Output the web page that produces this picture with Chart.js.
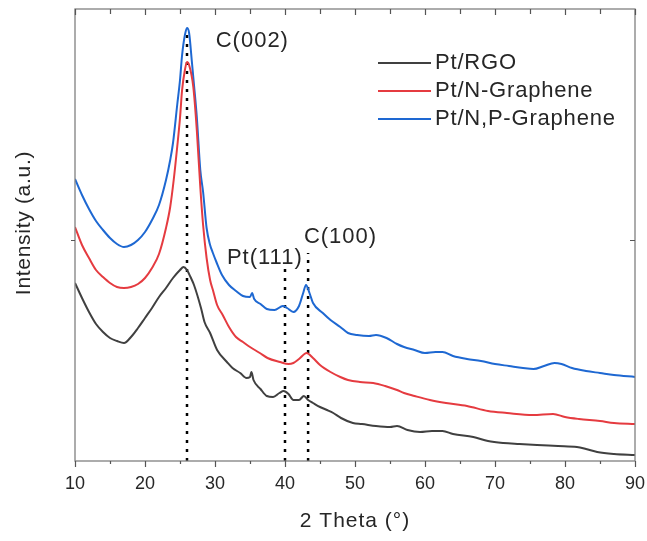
<!DOCTYPE html>
<html>
<head>
<meta charset="utf-8">
<script src="https://cdn.jsdelivr.net/npm/chart.js@4.4.1/dist/chart.umd.min.js"></script>
<style>
  html, body { margin: 0; padding: 0; background: #fff; }
  #wrap { width: 647px; height: 541px; }
</style>
</head>
<body>
<div id="wrap"><canvas id="xrdChart" width="647" height="541"></canvas></div>
<script>
// ---- data (intensity in arbitrary units) ----
const seriesLabels = ['Pt/RGO', 'Pt/N-Graphene', 'Pt/N,P-Graphene'];

const thetaRGO = [10, 11, 12, 13, 14, 15, 16, 17, 18, 19, 20, 21, 22, 23, 24, 25, 25.5, 26, 26.5, 27, 28, 28.5, 29.3, 30.3, 31.7, 32.5, 33.6, 34.5, 35, 35.2, 35.5, 36.5, 37.4, 38.3, 39.2, 39.8, 40.5, 41.2, 42, 42.7, 43.3, 44, 45, 46, 46.9, 48, 49.7, 51, 53, 55, 56, 57.5, 59.3, 61, 62.5, 64, 66.9, 69, 71.2, 73.5, 76, 79, 81.7, 83, 84.6, 87, 90];
const intRGO = [178, 163, 149, 137, 129, 123, 120, 118, 124, 133, 143, 153, 164, 173, 183, 191, 194, 191, 184, 176, 153, 139, 128, 111, 99, 93, 88, 83, 84, 89, 81, 72, 65, 64, 68, 70, 67, 61, 61, 65, 61, 58, 54, 51, 48, 43, 38, 37, 35, 34, 35, 31, 29, 30, 30, 27, 24, 20, 18, 17, 16, 15, 14, 12, 9, 7, 6];

const thetaN = [10, 11, 12, 13, 14, 15, 16, 17, 18, 19, 20, 21, 22, 23, 23.6, 24.1, 24.6, 25, 25.3, 25.7, 26, 26.3, 26.9, 27.4, 27.9, 28.3, 28.8, 29.3, 29.7, 30.3, 31.1, 32, 33, 34, 35, 36.4, 37.5, 39.3, 40.5, 41.2, 42, 43.1, 44, 45, 46.5, 47.9, 49, 50.7, 52.6, 54.3, 56, 57, 58.5, 60.7, 63, 66, 69, 71.7, 75.4, 78.3, 80, 82, 85, 87, 90];
const intN = [234, 216, 203, 191, 184, 178, 174, 173, 174, 177, 183, 193, 207, 233, 254, 281, 314, 343, 371, 391, 399, 396, 374, 331, 274, 236, 203, 181, 171, 156, 146, 134, 124, 119, 114, 108, 103, 99, 97, 98, 102, 108, 103, 96, 89, 84, 81, 79, 78, 75, 71, 68, 65, 61, 58, 55, 50, 48, 46, 47, 44, 42, 40, 38, 37];

const thetaNP = [10, 11, 12, 13, 14, 15, 16, 17, 18, 19, 20, 21, 22, 23, 23.6, 24, 24.6, 25, 25.3, 25.7, 26, 26.3, 26.7, 27, 27.4, 27.9, 28.3, 28.8, 29.3, 29.7, 30.2, 31, 32, 33, 34, 35, 35.3, 35.6, 36.5, 37.4, 38.5, 39.7, 40.3, 41.2, 42, 42.6, 43, 43.5, 44, 45.4, 46.5, 47.9, 49, 50.3, 52, 53, 54.5, 56, 57, 58.5, 60, 61.5, 62.5, 64, 66, 68, 70, 72, 74, 75.5, 77, 78.5, 79.5, 81, 83, 85, 87, 90];
const intNP = [282, 266, 252, 240, 231, 223, 217, 214, 216, 221, 229, 241, 256, 281, 301, 318, 356, 381, 406, 426, 433, 428, 399, 376, 344, 291, 269, 233, 216, 208, 199, 186, 176, 170, 165, 164, 168, 162, 157, 152, 151, 155, 153, 149, 155, 168, 176, 168, 158, 148, 141, 134, 128, 126, 125, 126, 123, 117, 114, 111, 108, 109, 109, 105, 102, 100, 97, 95, 93, 92, 95, 98, 97, 93, 90, 88, 86, 84];

// reflection markers: position and the height the dotted line reaches
const peakNames = ['C(002)', 'Pt(111)', 'C(100)'];
const peakTheta = [26, 40, 43.3];
const peakTop = [429, 193, 208];

const xTicks = [10, 15, 20, 25, 30, 35, 40, 45, 50, 55, 60, 65, 70, 75, 80, 85, 90];
const yTicks = [221];

const colors = {
    rgo: '#404040',
    n: '#e53b40',
    np: '#1e68d2',
    axis: '#808080',
    text: '#262626'
};

const FONT = '"Liberation Sans", Arial, sans-serif';

function pts(xs, ys) {
    return xs.map((x, i) => ({ x: x, y: ys[i] }));
}

// text anchors for the reflection labels (data coords)
const peakLabelPos = [
    { x: 30.1, y: 420 },
    { x: 31.7, y: 203 },
    { x: 42.7, y: 224 }
];

const seriesDatasets = [
    { label: seriesLabels[0], data: pts(thetaRGO, intRGO), borderColor: colors.rgo },
    { label: seriesLabels[1], data: pts(thetaN, intN), borderColor: colors.n },
    { label: seriesLabels[2], data: pts(thetaNP, intNP), borderColor: colors.np }
].map(d => Object.assign(d, {
    borderWidth: 2,
    pointRadius: 0,
    cubicInterpolationMode: 'monotone',
    fill: false
}));

const markerDatasets = peakTheta.map((t, i) => ({
    label: '',
    isMarker: true,
    data: [{ x: t, y: 0 }, { x: t, y: peakTop[i] }],
    borderColor: '#000',
    borderWidth: 2.5,
    borderDash: [3, 6],
    borderCapStyle: 'butt',
    pointRadius: 0,
    fill: false
}));

// frame, ticks, titles, labels and legend
const decorations = {
    id: 'decorations',
    afterDatasetsDraw(chart) {
        const c = chart.ctx;
        const a = chart.chartArea;
        const xs = chart.scales.x;
        const ys = chart.scales.y;
        c.save();

        // frame
        c.strokeStyle = colors.axis;
        c.lineWidth = 1.3;
        c.strokeRect(a.left, a.top, a.right - a.left, a.bottom - a.top);

        // x ticks (bottom outward, top inward)
        c.lineWidth = 1.2;
        c.strokeStyle = '#555';
        xTicks.forEach(v => {
            const px = Math.round(xs.getPixelForValue(v)) + 0.5;
            const major = v % 10 === 0;
            c.beginPath();
            c.moveTo(px, a.bottom);
            c.lineTo(px, a.bottom + (major ? 6 : 3));
            c.moveTo(px, a.top);
            c.lineTo(px, a.top + (major ? 6 : 5));
            c.stroke();
        });
        yTicks.forEach(v => {
            const py = Math.round(ys.getPixelForValue(v)) + 0.5;
            c.beginPath();
            c.moveTo(a.left, py);
            c.lineTo(a.left - 4, py);
            c.moveTo(a.right, py);
            c.lineTo(a.right - 5, py);
            c.stroke();
        });

        c.fillStyle = colors.text;
        c.textBaseline = 'middle';

        // axis titles
        c.font = '21px ' + FONT;
        c.letterSpacing = '1px';
        c.textAlign = 'center';
        c.fillText('2 Theta (°)', (a.left + a.right) / 2, 521);
        c.save();
        c.translate(24, 223);
        c.rotate(-Math.PI / 2);
        c.letterSpacing = '0.7px';
        c.fillText('Intensity (a.u.)', 0, 0);
        c.restore();

        // reflection labels
        c.font = '22px ' + FONT;
        c.letterSpacing = '1px';
        c.textAlign = 'left';
        peakNames.forEach((name, i) => {
            const p = peakLabelPos[i];
            c.fillText(name, xs.getPixelForValue(p.x), ys.getPixelForValue(p.y));
        });

        // legend
        c.letterSpacing = '0.8px';
        chart.data.datasets.filter(d => !d.isMarker).forEach((d, i) => {
            const y = 63 + i * 28;
            c.strokeStyle = d.borderColor;
            c.lineWidth = 2;
            c.beginPath();
            c.moveTo(378, y);
            c.lineTo(431, y);
            c.stroke();
            c.fillStyle = colors.text;
            c.fillText(d.label, 435, y);
        });

        c.restore();
    }
};

new Chart(document.getElementById('xrdChart'), {
    type: 'line',
    data: { datasets: seriesDatasets.concat(markerDatasets) },
    options: {
        responsive: false,
        animation: false,
        parsing: false,
        layout: { padding: { left: 0, right: 12, top: 9, bottom: 0 } },
        plugins: {
            legend: { display: false },
            tooltip: { enabled: false }
        },
        scales: {
            x: {
                type: 'linear',
                min: 10,
                max: 90,
                afterFit(scale) {
                    scale.height = 80;
                    scale.paddingLeft = 0;
                    scale.paddingRight = 0;
                },
                afterBuildTicks(scale) { scale.ticks = xTicks.map(v => ({ value: v })); },
                grid: { display: false, drawTicks: false },
                border: { display: false },
                ticks: {
                    autoSkip: false,
                    maxRotation: 0,
                    padding: 12,
                    color: colors.text,
                    font: { family: FONT, size: 18 },
                    callback: v => (v % 10 === 0 ? v : '')
                }
            },
            y: {
                type: 'linear',
                min: 0,
                max: 452,
                afterFit(scale) {
                    scale.width = 75;
                    scale.paddingTop = 0;
                    scale.paddingBottom = 0;
                },
                grid: { display: false, drawTicks: false },
                border: { display: false },
                ticks: { display: false }
            }
        }
    },
    plugins: [decorations]
});
</script>
</body>
</html>
